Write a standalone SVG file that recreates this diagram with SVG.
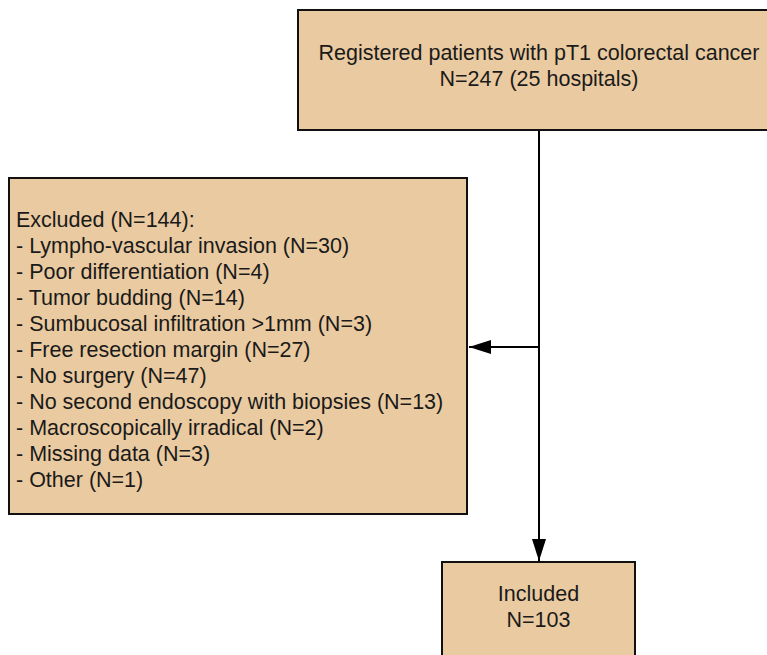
<svg xmlns="http://www.w3.org/2000/svg" width="767" height="655" viewBox="0 0 767 655">
<defs>
<style>
.box{fill:#EACAA0;stroke:#111;stroke-width:2}
.t{font-family:"Liberation Sans",Arial,sans-serif;font-size:21.5px;fill:#1a1a1a}
.c{text-anchor:middle}
.ln{stroke:#000;stroke-width:2;fill:none}
</style>
<marker id="ah2" markerWidth="22" markerHeight="14" refX="22" refY="7" orient="auto" markerUnits="userSpaceOnUse">
<path d="M0,0 L22,7 L0,14 Z" fill="#000"/>
</marker>
</defs>
<g id="connectors">
<line class="ln" x1="539" y1="130" x2="539" y2="561" marker-end="url(#ah2)"/>
<line class="ln" x1="539" y1="347" x2="469" y2="347" marker-end="url(#ah2)"/>
</g>
<g id="registered">
<rect class="box" x="298" y="10" width="482" height="120"/>
<text class="t c" x="539" y="60">Registered patients with pT1 colorectal cancer</text>
<text class="t c" x="539" y="86">N=247 (25 hospitals)</text>
</g>
<g id="excluded">
<rect class="box" x="9" y="178" width="458" height="336"/>
<text class="t" x="16" y="227">Excluded (N=144):</text>
<text class="t" x="16" y="253">- Lympho-vascular invasion (N=30)</text>
<text class="t" x="16" y="279">- Poor differentiation (N=4)</text>
<text class="t" x="16" y="305">- Tumor budding (N=14)</text>
<text class="t" x="16" y="331">- Sumbucosal infiltration &gt;1mm (N=3)</text>
<text class="t" x="16" y="357">- Free resection margin (N=27)</text>
<text class="t" x="16" y="383">- No surgery (N=47)</text>
<text class="t" x="16" y="409">- No second endoscopy with biopsies (N=13)</text>
<text class="t" x="16" y="435">- Macroscopically irradical (N=2)</text>
<text class="t" x="16" y="461">- Missing data (N=3)</text>
<text class="t" x="16" y="487">- Other (N=1)</text>
</g>
<g id="included">
<rect class="box" x="442" y="562" width="193" height="110"/>
<text class="t c" x="538.5" y="601">Included</text>
<text class="t c" x="538.5" y="627">N=103</text>
</g>
</svg>
